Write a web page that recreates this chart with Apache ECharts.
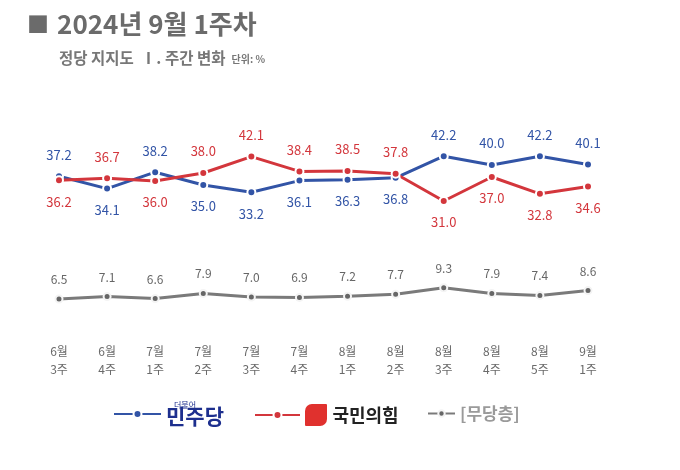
<!DOCTYPE html>
<html><head><meta charset="utf-8">
<script src="https://cdn.jsdelivr.net/npm/echarts@6/dist/echarts.min.js"></script>
<style>html,body{margin:0;padding:0;background:#fff}#c{width:680px;height:470px}</style>
</head><body><div id="c"></div>
<script>
const weeks = ['6월\n3주','6월\n4주','7월\n1주','7월\n2주','7월\n3주','7월\n4주','8월\n1주','8월\n2주','8월\n3주','8월\n4주','8월\n5주','9월\n1주'];
const democratic = [37.2,34.1,38.2,35.0,33.2,36.1,36.3,36.8,42.2,40.0,42.2,40.1];
const ppp = [36.2,36.7,36.0,38.0,42.1,38.4,38.5,37.8,31.0,37.0,32.8,34.6];
const independent = [6.5,7.1,6.6,7.9,7.0,6.9,7.2,7.7,9.3,7.9,7.4,8.6];
// label above (true) or below (false)
const demAbove = [true,false,true,false,false,false,false,false,true,true,true,true];
const pppAbove = [false,true,false,true,true,true,true,true,false,false,false,false];

const FONT = '"Noto Sans CJK KR", "Noto Sans", sans-serif';
const BLUE = '#3254a6', RED = '#d3363c', GRAY = '#7a7a7a';

function mkData(vals, above) {
  return vals.map((v, i) => ({
    value: v,
    label: { position: above[i] ? 'top' : 'bottom' }
  }));
}

const chart = echarts.init(document.getElementById('c'));
chart.setOption({
  animation: false,
  textStyle: { fontFamily: FONT },
  title: [
    { text: '{q|■} {t|2024년 9월 1주차}', left: 22, top: 6,
      textStyle: { rich: {
        q: { fontFamily: FONT, fontSize: 22, color: '#6b6b6b', padding: [0,4,0,0] },
        t: { fontFamily: FONT, fontSize: 26, fontWeight: 'bold', color: '#6b6b6b' } } } },
    { text: '{a|정당 지지도  Ⅰ. 주간 변화} {b|단위: %}', left: 54, top: 44,
      textStyle: { rich: {
        a: { fontFamily: FONT, fontSize: 15.5, color: '#777' },
        b: { fontFamily: FONT, fontSize: 10, color: '#777', padding: [3,0,0,2] } } } }
  ],
  grid: { left: 59, right: 92, top: 125, bottom: 145 },
  xAxis: {
    type: 'category', data: weeks, boundaryGap: false,
    axisLine: { show: false }, axisTick: { show: false },
    axisLabel: { margin: 17, color: '#6a6a6a', fontSize: 12, lineHeight: 18, fontFamily: FONT }
  },
  yAxis: { type: 'value', min: 0, max: 50, show: false, splitLine: { show: false } },
  legend: [
    { data: ['민주당'], left: 108, top: 396, itemWidth: 47, itemHeight: 10, itemGap: 8,
      formatter: () => '{s|더불어}\n{m|민주당}',
      textStyle: { rich: {
        s: { fontSize: 8, color: '#1d2f8e', fontFamily: FONT, padding: [0,0,-3,8] },
        m: { fontSize: 21, fontWeight: 'bold', color: '#1d2f8e', fontFamily: FONT } } } },
    { data: ['국민의힘'], left: 249, top: 399, itemWidth: 45, itemHeight: 10, itemGap: 10,
      formatter: () => '{logo|}  {m|국민의힘}',
      textStyle: { rich: {
        logo: { width: 22, height: 22, backgroundColor: '#e0312e', borderRadius: [7,1,7,1] },
        m: { fontSize: 18, fontWeight: 'bold', color: '#222', fontFamily: FONT } } } },
    { data: ['[무당층]'], left: 422, top: 400, itemWidth: 27, itemHeight: 8, itemGap: 10,
      textStyle: { fontSize: 17, fontWeight: 'bold', color: '#9a9a9a', fontFamily: FONT } }
  ],
  series: [
    { name: '민주당', type: 'line', data: mkData(democratic, demAbove), color: BLUE,
      lineStyle: { width: 3, color: BLUE }, symbol: 'circle', symbolSize: 8,
      itemStyle: { color: BLUE, borderColor: '#fff', borderWidth: 2 },
      label: { show: true, distance: 10, fontSize: 13, color: BLUE, fontFamily: FONT, formatter: p => p.value.toFixed(1) } },
    { name: '국민의힘', type: 'line', data: mkData(ppp, pppAbove), color: RED,
      lineStyle: { width: 3, color: RED }, symbol: 'circle', symbolSize: 8,
      itemStyle: { color: RED, borderColor: '#fff', borderWidth: 2 },
      label: { show: true, distance: 10, fontSize: 13, color: RED, fontFamily: FONT, formatter: p => p.value.toFixed(1) } },
    { name: '[무당층]', type: 'line', data: independent, color: GRAY,
      lineStyle: { width: 3, color: GRAY }, symbol: 'circle', symbolSize: 7,
      itemStyle: { color: '#666', borderColor: '#f4f4f4', borderWidth: 2 },
      label: { show: true, position: 'top', distance: 9, fontSize: 12, color: '#666', fontFamily: FONT, formatter: p => p.value.toFixed(1) } }
  ]
});
</script></body></html>
